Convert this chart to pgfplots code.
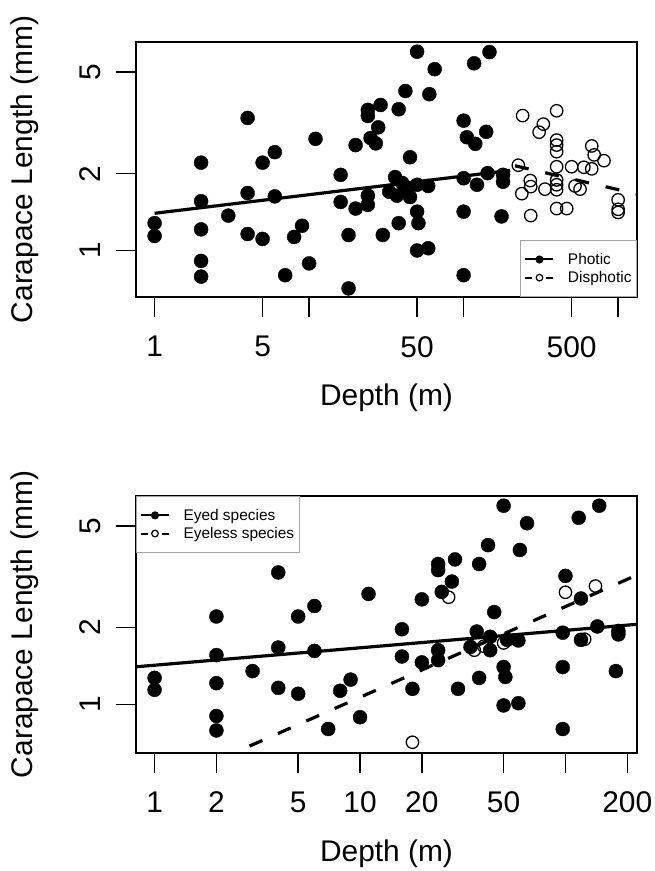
\documentclass[border=0pt]{standalone}
\usepackage{fontspec}
\setmainfont{Liberation Sans}
\usepackage{pgfplots}
\pgfplotsset{compat=1.18}

\begin{document}
\begin{tikzpicture}
\path[use as bounding box] (0,0) rectangle (655bp,-871bp);

% top panel: photic vs disphotic
\begin{axis}[scale only axis, width=501bp, height=255bp,
  at={(136bp,-297bp)}, anchor=south west,
  xmode=log, ymode=log,
  xmin=0.758, xmax=1325, ymin=0.657, ymax=6.57,
  axis line style={line width=1.6bp},
  tick align=outside, major tick length=20bp,
  tick style={line width=1.5bp,black},
  xtick pos=bottom, ytick pos=left,
  minor xtick={}, minor ytick={},
  xtick={1,5,10,50,100,500,1000}, xticklabels={1,5,,50,,500,},
  ytick={1,2,5}, yticklabels={1,2,5},
  tick label style={font=\fontsize{30}{36}\selectfont, inner sep=0pt},
  xticklabel style={anchor=north},
  xticklabel shift=19bp,
  yticklabel style={rotate=90, anchor=south},
  yticklabel shift=15bp,
  label style={font=\fontsize{30}{36}\selectfont},
  xlabel={Depth (m)},
  ylabel={Carapace Length (mm)},
  xlabel style={at={(axis description cs:0.5,0)}, anchor=center, yshift=-101bp},
  ylabel style={at={(axis description cs:-0.2216,0.5)}, anchor=center},
  clip mode=individual,
  legend image code/.code={
    \draw[#1] (0bp,0bp) -- (28bp,0bp);
    \draw[#1,solid] plot coordinates {(14bp,0bp)};},
  legend style={draw=black!35, line width=1bp, fill=white,
    font=\fontsize{15.5}{18}\selectfont,
    inner xsep=3.5bp, inner ysep=11bp, row sep=2.5bp,
    nodes={inner sep=1.5bp},
    /tikz/every odd column/.append style={column sep=12bp},
    at={(1,0)}, anchor=south east},
  legend cell align=left]
\addplot[only marks, mark=*, mark size=7bp, black, forget plot] coordinates {
  (1,1.28)(1,1.14)(2,2.21)(2,1.56)(2,1.21)(2,0.91)(2,0.79)(3,1.37)
  (4,3.31)(4,1.68)(4,1.16)(5,2.21)(6,2.43)(6,1.63)(5,1.11)(7,0.80)
  (8,1.13)(9,1.25)(10,0.89)(11,2.74)(16,1.98)(16,1.55)(20,2.59)(20,1.46)
  (18,1.15)(18,0.71)(24,3.56)(24,3.37)(29,3.72)(28,3.04)(25,2.76)(27,2.63)
  (24,1.64)(24,1.51)(30,1.15)(33,1.70)(36,1.94)(37,1.64)(40,1.84)(43,1.73)
  (45,1.62)(50,1.81)(59,1.79)(50,1.42)(51,1.28)(38,1.28)(50,1.00)(59,1.02)
  (50,6.02)(65,5.14)(117,5.42)(147,6.00)(42,4.22)(60,4.10)(38,3.58)(100,3.23)
  (140,2.92)(105,2.78)(119,2.62)(45,2.32)(100,1.92)(122,1.81)(143,2.01)
  (180,1.98)(180,1.86)(100,1.42)(176,1.36)(100,0.80)};
\addplot[only marks, mark=o, mark size=6.2bp, black, line width=1.3bp, forget plot] coordinates {
  (241,3.38)(400,3.53)(328,3.13)(308,2.91)(400,2.71)(400,2.59)(400,2.44)
  (675,2.57)(700,2.37)(810,2.25)(226,2.16)(400,2.13)(500,2.13)(600,2.12)
  (675,2.09)(270,1.88)(272,1.78)(238,1.67)(336,1.74)(400,1.89)(400,1.81)
  (400,1.73)(526,1.79)(567,1.74)(272,1.37)(400,1.46)(465,1.46)(1000,1.58)
  (1000,1.45)(1000,1.41)};
\addplot[no marks, black, line width=3.2bp, forget plot] coordinates {(1,1.399)(200,2.06)};
\addplot[no marks, black, line width=3.2bp, dash pattern=on 14bp off 17bp, forget plot] coordinates {(215,2.149)(1400,1.652)};
\addlegendimage{black, line width=2bp, mark=*, mark size=3bp, mark options={solid}}
\addlegendentry{Photic}
\addlegendimage{black, line width=2bp, dash pattern=on 7bp off 14bp, mark=o, mark size=3.3bp, mark options={solid,line width=1.2bp}}
\addlegendentry{Disphotic}
\end{axis}

% bottom panel: eyed vs eyeless
\begin{axis}[scale only axis, width=501bp, height=256.7bp,
  at={(136bp,-752.7bp)}, anchor=south west,
  xmode=log, ymode=log,
  xmin=0.812, xmax=223, ymin=0.646, ymax=6.56,
  axis line style={line width=1.6bp},
  tick align=outside, major tick length=20bp,
  tick style={line width=1.5bp,black},
  xtick pos=bottom, ytick pos=left,
  minor xtick={}, minor ytick={},
  xtick={1,2,5,10,20,50,100,200}, xticklabels={1,2,5,10,20,50,,200},
  ytick={1,2,5}, yticklabels={1,2,5},
  tick label style={font=\fontsize{30}{36}\selectfont, inner sep=0pt},
  xticklabel style={anchor=north},
  xticklabel shift=19bp,
  yticklabel style={rotate=90, anchor=south},
  yticklabel shift=15bp,
  label style={font=\fontsize{30}{36}\selectfont},
  xlabel={Depth (m)},
  ylabel={Carapace Length (mm)},
  xlabel style={at={(axis description cs:0.5,0)}, anchor=center, yshift=-101bp},
  ylabel style={at={(axis description cs:-0.2216,0.5)}, anchor=center},
  clip mode=individual,
  legend image code/.code={
    \draw[#1] (0bp,0bp) -- (28bp,0bp);
    \draw[#1,solid] plot coordinates {(14bp,0bp)};},
  legend style={draw=black!35, line width=1bp, fill=white,
    font=\fontsize{15.5}{18}\selectfont,
    inner xsep=3.5bp, inner ysep=11bp, row sep=2.5bp,
    nodes={inner sep=1.5bp},
    /tikz/every odd column/.append style={column sep=12bp},
    at={(0,1)}, anchor=north west},
  legend cell align=left]
\addplot[only marks, mark=*, mark size=7bp, black, forget plot] coordinates {
  (1,1.27)(1,1.14)(2,2.21)(2,1.56)(2,1.21)(2,0.90)(2,0.79)(3,1.35)
  (4,3.29)(4,1.67)(4,1.16)(5,2.21)(5,1.10)(6,2.43)(6,1.62)(7,0.80)
  (8,1.13)(9,1.25)(10,0.89)(11,2.71)(50,6.01)(65,5.13)(116,5.39)(146,6.01)
  (42,4.21)(60,4.03)(24,3.55)(24,3.36)(29,3.70)(38,3.55)(28,3.03)(25,2.76)
  (20,2.58)(100,3.19)(119,2.60)(45,2.30)(16,1.97)(37,1.93)(43,1.84)(52,1.79)
  (59,1.78)(97,1.91)(143,2.02)(181,1.94)(181,1.88)(119,1.79)(34.5,1.68)
  (43,1.63)(24,1.63)(24,1.49)(16,1.54)(20,1.46)(38,1.27)(50,1.40)(51,1.28)
  (97,1.40)(176,1.35)(18,1.15)(30,1.15)(50,0.99)(59,1.01)(97,0.80)};
\addplot[only marks, mark=o, mark size=6.2bp, black, line width=1.3bp, forget plot] coordinates {
  (27,2.63)(100,2.75)(140,2.91)(36,1.63)(40,1.69)(50,1.74)(124,1.80)(18,0.71)};
\addplot[no marks, black, line width=3.2bp, forget plot] coordinates {(0.7,1.389)(260,2.081)};
\addplot[no marks, black, line width=3.2bp, dash pattern=on 14bp off 17bp, forget plot] coordinates {(2.9,0.686)(260,3.395)};
\addlegendimage{black, line width=2bp, mark=*, mark size=3bp, mark options={solid}}
\addlegendentry{Eyed species}
\addlegendimage{black, line width=2bp, dash pattern=on 7bp off 14bp, mark=o, mark size=3.3bp, mark options={solid,line width=1.2bp}}
\addlegendentry{Eyeless species}
\end{axis}
\end{tikzpicture}
\end{document}
